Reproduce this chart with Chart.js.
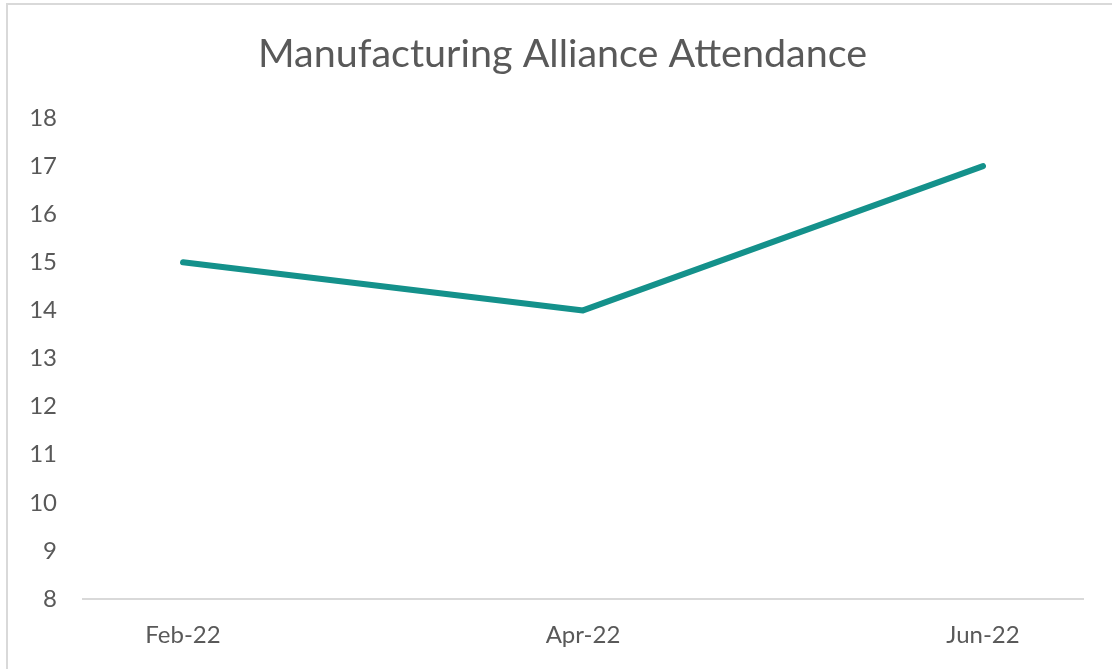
<!DOCTYPE html>
<html>
<head>
<meta charset="utf-8">
<script src="https://cdn.jsdelivr.net/npm/chart.js@4/dist/chart.umd.min.js"></script>
<style>
  html, body { margin: 0; padding: 0; background: #fff; overflow: hidden; }
  #wrap { position: relative; width: 1112px; height: 669px; }
  #frame { position: absolute; left: 6px; top: 3px; width: 1120px; height: 700px;
           border-left: 2px solid #d9d9d9; border-top: 2px solid #d9d9d9; pointer-events: none; }
  canvas { position: absolute; left: 0; top: 0; }
</style>
</head>
<body>
<div id="wrap">
  <canvas id="c" width="1112" height="669"></canvas>
  <div id="frame"></div>
</div>
<script>
const chartTitle = 'Manufacturing Alliance Attendance';
const categories = ['Feb-22', 'Mar-22', 'Apr-22', 'May-22', 'Jun-22'];
const shownLabels = ['Feb-22', '', 'Apr-22', '', 'Jun-22'];
const attendance = [15, null, 14, null, 17];
const yMin = 8, yMax = 18, yStep = 1;

const textColor = '#595959';
const fontFamily = 'Lato, "Open Sans", "Liberation Sans", sans-serif';

const shiftTitle = {
  id: 'shiftTitle',
  afterLayout(chart) {
    const t = chart.titleBlock;
    if (t) { t.left += 42; t.width = t.right - t.left; }
  }
};

new Chart(document.getElementById('c'), {
  type: 'line',
  data: {
    labels: categories,
    datasets: [{
      label: 'Attendance',
      data: attendance,
      borderColor: '#14918b',
      backgroundColor: '#14918b',
      borderWidth: 6,
      borderCapStyle: 'round',
      borderJoinStyle: 'round',
      pointRadius: 0,
      tension: 0,
      spanGaps: true
    }]
  },
  plugins: [shiftTitle],
  options: {
    responsive: false,
    animation: false,
    layout: { padding: { left: 0, right: 29, top: 0, bottom: 0 } },
    plugins: {
      legend: { display: false },
      tooltip: { enabled: false },
      title: {
        display: true,
        text: chartTitle,
        color: textColor,
        font: { family: fontFamily, size: 39.5, weight: 'normal' },
        padding: { top: 31, bottom: 39.6 }
      }
    },
    scales: {
      x: {
        type: 'category',
        offset: true,
        grid: { display: false, drawTicks: false },
        border: { display: true, color: '#d9d9d9', width: 2 },
        ticks: {
          autoSkip: false,
          maxRotation: 0,
          padding: 22,
          color: textColor,
          font: { family: fontFamily, size: 24 },
          callback: (v, i) => shownLabels[i]
        },
        afterFit: s => { s.height = 70; }
      },
      y: {
        min: yMin,
        max: yMax,
        grid: { display: false, drawTicks: false },
        border: { display: false },
        ticks: {
          stepSize: yStep,
          padding: 26,
          color: textColor,
          font: { family: fontFamily, size: 24 }
        },
        afterFit: s => { s.width = 83; }
      }
    }
  }
});
</script>
</body>
</html>
